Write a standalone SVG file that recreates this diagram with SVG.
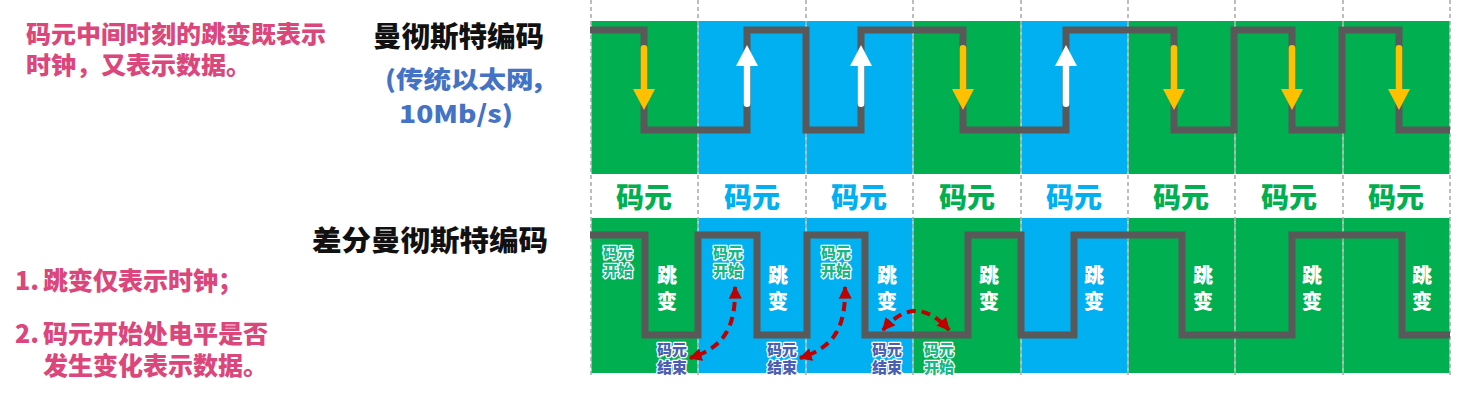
<svg xmlns="http://www.w3.org/2000/svg" width="1480" height="403" viewBox="0 0 1480 403">
<style>
.cj{font-family:"Noto Sans CJK SC","Noto Sans",sans-serif;font-weight:900}
.pink{fill:#DB467B}
.title{fill:#111;font-size:28.5px}
.blue{fill:#4472C4;font-size:24px}
.g{fill:#00B050}.b{fill:#00B0F0}
.lbl{font-size:28px;text-anchor:middle}
.jb{fill:#fff;font-size:20px;writing-mode:vertical-rl;letter-spacing:6px}
.st{fill:#17B883;font-size:15px;text-anchor:middle;stroke:#fff;stroke-width:2.5;paint-order:stroke;stroke-linejoin:round}
.en{fill:#4A5EB3;font-size:15px;text-anchor:middle;stroke:#fff;stroke-width:2.5;paint-order:stroke;stroke-linejoin:round}
.grid{stroke:#9a9a9a;stroke-width:1.3;stroke-dasharray:4 3;fill:none}
.wave{fill:none;stroke:#595959;stroke-width:7;stroke-linejoin:miter}
.ya{fill:#FFC000}.wa{fill:#fff}
.rd{fill:none;stroke:#C00000;stroke-width:4;stroke-dasharray:9 6}
</style>
<defs>
<marker id="rh" viewBox="0 0 10 10" refX="9" refY="5" markerUnits="userSpaceOnUse" markerWidth="13" markerHeight="13" orient="auto-start-reverse">
<path d="M0,0 L10,5 L0,10 z" fill="#C00000"/>
</marker>
<g id="yarrow"><rect x="-3.3" y="45" width="6.6" height="48" rx="3.3" class="ya"/><path d="M-11,89 L11,89 L0,110 z" class="ya"/></g>
<g id="warrow"><rect x="-3.3" y="60" width="6.6" height="47" rx="3.3" class="wa"/><path d="M-11,66 L11,66 L0,45 z" class="wa"/></g>
</defs>
<rect width="1480" height="403" fill="#fff"/>

<g id="left-notes" class="cj pink">
<text x="26" y="43" font-size="24" textLength="300" lengthAdjust="spacingAndGlyphs">码元中间时刻的跳变既表示</text>
<text x="26" y="74" font-size="24" textLength="225" lengthAdjust="spacingAndGlyphs">时钟，又表示数据。</text>
<text x="15" y="290" font-size="25">1.<tspan x="43">跳变仅表示时钟；</tspan></text>
<text x="15" y="343" font-size="25">2.<tspan x="43">码元开始处电平是否</tspan></text>
<text x="43" y="375" font-size="25">发生变化表示数据。</text>
</g>

<g id="title-manchester" class="cj">
<text x="373" y="47" class="title" textLength="171" lengthAdjust="spacingAndGlyphs">曼彻斯特编码</text>
<text x="385" y="88" class="blue" textLength="158" lengthAdjust="spacingAndGlyphs">(传统以太网,</text>
<text x="399" y="123" class="blue" textLength="114" lengthAdjust="spacingAndGlyphs">10Mb/s)</text>
</g>
<g id="title-diff" class="cj">
<text x="312" y="251" class="title" textLength="236" lengthAdjust="spacingAndGlyphs">差分曼彻斯特编码</text>
</g>

<g id="cells-top">
<rect x="591.5" y="21" width="106" height="153" class="g"/>
<rect x="698.5" y="21" width="107" height="153" class="b"/>
<rect x="806.5" y="21" width="106" height="153" class="b"/>
<rect x="913.5" y="21" width="107" height="153" class="g"/>
<rect x="1021.5" y="21" width="106" height="153" class="b"/>
<rect x="1128.5" y="21" width="106" height="153" class="g"/>
<rect x="1235.5" y="21" width="107" height="153" class="g"/>
<rect x="1343.5" y="21" width="106" height="153" class="g"/>
</g>
<g id="cells-bottom">
<rect x="591.5" y="218" width="106" height="155" class="g"/>
<rect x="698.5" y="218" width="107" height="155" class="b"/>
<rect x="806.5" y="218" width="106" height="155" class="b"/>
<rect x="913.5" y="218" width="107" height="155" class="g"/>
<rect x="1021.5" y="218" width="106" height="155" class="b"/>
<rect x="1128.5" y="218" width="106" height="155" class="g"/>
<rect x="1235.5" y="218" width="107" height="155" class="g"/>
<rect x="1343.5" y="218" width="106" height="155" class="g"/>
</g>
<g id="grid">
<path class="grid" d="M591,0V377M698,0V377M806,0V377M913,0V377M1021,0V377M1128,0V377M1235,0V377M1343,0V377M1450,0V377"/>
</g>

<g id="symbol-labels" class="cj lbl">
<text x="644" y="208" class="g">码元</text>
<text x="752" y="208" class="b">码元</text>
<text x="859" y="208" class="b">码元</text>
<text x="967" y="208" class="g">码元</text>
<text x="1074" y="208" class="b">码元</text>
<text x="1181" y="208" class="g">码元</text>
<text x="1289" y="208" class="g">码元</text>
<text x="1396" y="208" class="g">码元</text>
</g>

<g id="wave-top">
<path class="wave" d="M590,30 H644 V130 H747 V30 H806 V130 H861 V30 H963 V130 H1066 V30 H1174 V130 H1234 V30 H1292 V130 H1342 V30 H1399 V130 H1450"/>
</g>
<g id="mid-arrows">
<use href="#yarrow" x="644"/>
<use href="#warrow" x="747"/>
<use href="#warrow" x="861"/>
<use href="#yarrow" x="963"/>
<use href="#warrow" x="1066"/>
<use href="#yarrow" x="1174"/>
<use href="#yarrow" x="1292"/>
<use href="#yarrow" x="1399"/>
</g>

<g id="wave-bottom">
<path class="wave" d="M590,235 H645 V335 H698 V235 H757 V335 H807 V235 H865 V335 H968 V235 H1021 V335 H1074 V235 H1182 V335 H1292 V235 H1402 V335 H1450"/>
</g>

<g id="jump-labels" class="cj jb">
<text x="667" y="265">跳变</text>
<text x="778" y="265">跳变</text>
<text x="887" y="265">跳变</text>
<text x="989" y="265">跳变</text>
<text x="1094" y="265">跳变</text>
<text x="1203" y="265">跳变</text>
<text x="1312" y="265">跳变</text>
<text x="1422" y="265">跳变</text>
</g>

<g id="start-labels" class="cj st">
<text x="618" y="258">码元<tspan x="618" y="276">开始</tspan></text>
<text x="728" y="258">码元<tspan x="728" y="276">开始</tspan></text>
<text x="836" y="258">码元<tspan x="836" y="276">开始</tspan></text>
<text x="939" y="355">码元<tspan x="939" y="373">开始</tspan></text>
</g>
<g id="end-labels" class="cj en">
<text x="672" y="355">码元<tspan x="672" y="373">结束</tspan></text>
<text x="782" y="355">码元<tspan x="782" y="373">结束</tspan></text>
<text x="887" y="355">码元<tspan x="887" y="373">结束</tspan></text>
</g>

<g id="connectors">
<path class="rd" d="M735,287 C736,330 722,348 690,358" marker-start="url(#rh)" marker-end="url(#rh)"/>
<path class="rd" d="M845,287 C846,330 832,348 800,358" marker-start="url(#rh)" marker-end="url(#rh)"/>
<path class="rd" d="M883,330 Q915,292 949,330" marker-start="url(#rh)" marker-end="url(#rh)"/>
</g>
</svg>
